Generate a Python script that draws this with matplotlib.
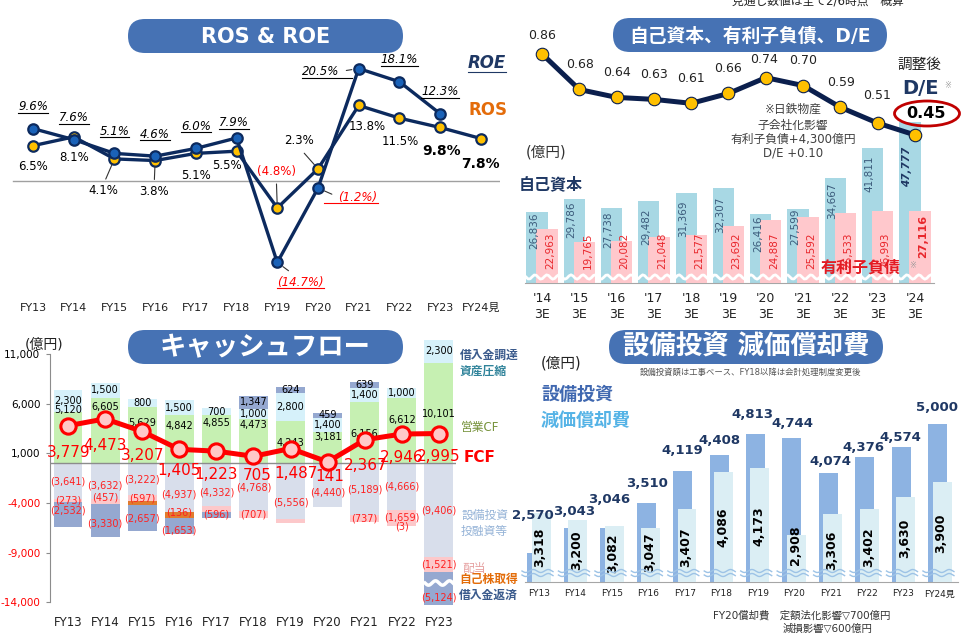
import matplotlib
matplotlib.use('Agg')
import matplotlib.pyplot as plt
import numpy as np
from matplotlib.patches import FancyBboxPatch, Ellipse
from matplotlib.lines import Line2D
from matplotlib.transforms import IdentityTransform

plt.rcParams['font.family'] = ['DejaVu Sans', 'Noto Sans CJK JP']

# ---------------- data ----------------
fy = ['FY13', 'FY14', 'FY15', 'FY16', 'FY17', 'FY18', 'FY19', 'FY20', 'FY21', 'FY22', 'FY23']
fy_plan = fy + ['FY24見']

# ROS & ROE (%)
roe = [9.6, 7.6, 5.1, 4.6, 6.0, 7.9, -14.7, -1.2, 20.5, 18.1, 12.3]
ros = [6.5, 8.1, 4.1, 3.8, 5.1, 5.5, -4.8, 2.3, 13.8, 11.5, 9.8, 7.8]

# equity, interest-bearing debt (億円), D/E
de_years = ["'14\n3E", "'15\n3E", "'16\n3E", "'17\n3E", "'18\n3E", "'19\n3E",
            "'20\n3E", "'21\n3E", "'22\n3E", "'23\n3E", "'24\n3E"]
de_ratio = [0.86, 0.68, 0.64, 0.63, 0.61, 0.66, 0.74, 0.70, 0.59, 0.51, 0.45]
equity = [26836, 29786, 27738, 29482, 31369, 32307, 26416, 27599, 34667, 41811, 47777]
debt = [22963, 19765, 20082, 21048, 21577, 23692, 24887, 25592, 26533, 26993, 27116]

# cash flow (億円)
op_cf = [5120, 6605, 5629, 4842, 4855, 4473, 4243, 3181, 6156, 6612, 10101]
asset_sale = [2300, 1500, 800, 1500, 700, 1000, 2800, 1400, 1400, 1000, 2300]
borrowing = [0, 0, 0, 0, 0, 1347, 624, 459, 639, 0, 0]
capex_inv = [3641, 3632, 3222, 4937, 4332, 4768, 5556, 4440, 5189, 4666, 9406]
dividends = [273, 457, 597, 0, 570, 707, 440, 0, 737, 1659, 1521]
div_labeled = [273, 457, 597, 0, 0, 707, 0, 0, 737, 1659, 1521]
buyback = [0, 0, 360, 570, 0, 0, 0, 0, 0, 0, 0]
buyback_labeled = [0, 0, 0, 136, 0, 0, 0, 0, 0, 0, 0]
repayment = [2532, 3330, 2657, 1653, 596, 0, 0, 0, 0, 3, 5124]
fcf = [3779, 4473, 3207, 1405, 1223, 705, 1487, 141, 2367, 2946, 2995]

# capex & depreciation (億円)
capex = [2570, 3043, 3046, 3510, 4119, 4408, 4813, 4744, 4074, 4376, 4574, 5000]
deprec = [3318, 3200, 3082, 3047, 3407, 4086, 4173, 2908, 3306, 3402, 3630, 3900]

# ---------------- layout helpers ----------------
W, H = 961, 641
fig = plt.figure(figsize=(W / 100, H / 100), dpi=100)
NAVY = '#0c2a5e'
PILL = '#4672b4'


def px_axes(x0, y0, x1, y1):
    ax = fig.add_axes([x0 / W, 1 - y1 / H, (x1 - x0) / W, (y1 - y0) / H])
    ax.patch.set_alpha(0)
    return ax


def lab(ax, x, y, s, dx=0, dy=0, **kw):
    kw.setdefault('ha', 'center')
    kw.setdefault('va', 'center')
    return ax.annotate(s, (x, y), xytext=(dx, dy), textcoords='offset pixels',
                       annotation_clip=False, **kw)


def fmt_neg(v):
    return f"({v:,})"


underlined = []

ov = px_axes(0, 0, W, H)
ov.set_xlim(0, W)
ov.set_ylim(H, 0)
ov.axis('off')
ov.set_zorder(10)


def pill(x0, y0, x1, y1, text, fs):
    h = y1 - y0
    ov.add_patch(FancyBboxPatch((x0, y0), x1 - x0, h,
                                boxstyle=f"round,pad=0,rounding_size={h / 2}",
                                fc=PILL, ec='none'))
    ov.text((x0 + x1) / 2, (y0 + y1) / 2 + 1, text, color='white', fontsize=fs,
            fontweight='bold', ha='center', va='center')


def wave(x0, x1, y, amp, period, **kw):
    xs = np.linspace(x0, x1, 200)
    ov.plot(xs, y + amp * np.sin(2 * np.pi * (xs - x0) / period), **kw)


# ---------------- panel 1 : ROS & ROE ----------------
ax1 = px_axes(0, 0, 500, 320)
ax1.set_xlim(-0.811, 11.47)
ax1.set_ylim(-25.14, 32.94)
ax1.axis('off')
ax1.axhline(0, xmin=13 / 500, xmax=1, color='#a0a0a0', lw=1)
x12 = np.arange(len(fy_plan))
ax1.plot(x12, ros, color=NAVY, lw=2.4, marker='o', ms=7.5, mfc='#ffc000',
         mec=NAVY, mew=1.6, zorder=3)
ax1.plot(x12[:len(roe)], roe, color=NAVY, lw=2.4, marker='o', ms=7.5, mfc='#1a62b8',
         mec=NAVY, mew=1.6, zorder=4)
for i, t in enumerate(fy_plan):
    ax1.text(i, 1 - 308 / 320, t, transform=ax1.get_xaxis_transform(),
             ha='center', va='center', fontsize=8, color='#222222')

roe_off = [(0, 22), (0, 22), (0, 22), (0, 22), (0, 22), (-3, 15), (23, -20),
           (40, -9), (-38, -3), (0, 22), (0, 22)]
roe_lead = {6: dict(relpos=(0.4, 1.0), shrinkA=3, shrinkB=5),
            7: dict(relpos=(0.0, 0.5), shrinkA=3, shrinkB=5),
            8: dict(relpos=(1.0, 0.5), shrinkA=3, shrinkB=5)}
for i, v in enumerate(roe):
    s = f"{v:.1f}%" if v >= 0 else f"({-v:.1f}%)"
    c = 'black' if v >= 0 else '#ff0000'
    ap = None
    if i in roe_lead:
        ap = dict(arrowstyle='-', color='#333333', lw=0.8, **roe_lead[i])
    t = lab(ax1, i, v, s, *roe_off[i], fontsize=8.5, style='italic', color=c,
            arrowprops=ap)
    underlined.append((t, c))

ros_off = [(0, -21), (0, -21), (-11, -32), (-1, -31), (0, -22), (-10, -14), (-1, 36),
           (-19, 28), (9, -21), (1, -23), (1, -24), (0, -25)]
ros_lead = {2: dict(relpos=(0.5, 1.0), shrinkA=2, shrinkB=4),
            3: dict(relpos=(0.5, 1.0), shrinkA=2, shrinkB=4),
            6: dict(relpos=(0.5, 0.0), shrinkA=2, shrinkB=4),
            7: dict(relpos=(0.5, 0.0), shrinkA=3, shrinkB=4)}
for i, v in enumerate(ros):
    s = f"{v:.1f}%" if v >= 0 else f"({-v:.1f}%)"
    c = 'black' if v >= 0 else '#ff0000'
    ap = None
    if i in ros_lead:
        ap = dict(arrowstyle='-', color='#333333', lw=0.8, **ros_lead[i])
    big = i >= len(ros) - 2
    lab(ax1, i, v, s, *ros_off[i], fontsize=10 if big else 8.5,
        fontweight='bold' if big else 'normal', color=c, arrowprops=ap)

pill(128, 19, 403, 53, 'ROS & ROE', 15)
t = ov.text(468, 63, 'ROE', color='#1f3864', fontsize=12, fontweight='bold',
            style='italic', ha='left', va='center')
underlined.append((t, '#1f3864'))
ov.text(468, 110, 'ROS', color='#e46c0a', fontsize=12, fontweight='bold',
        ha='left', va='center')

# ---------------- panel 2 : equity, debt, D/E ----------------
ax2 = px_axes(525, 30, 934, 283)
x11 = np.arange(len(de_years))
ax2.set_xlim(-0.456, 10.51)
ax2.set_ylim(10324, 10324 + 253 / 0.0043)
for sp in ['top', 'left', 'right']:
    ax2.spines[sp].set_visible(False)
ax2.spines['bottom'].set_color('#a6a6a6')
ax2.set_xticks([])
ax2.set_yticks([])
ax2.bar(x11 - 0.135, equity, width=0.57, color='#a8d8e4', zorder=2)
ax2.bar(x11 + 0.135, debt, width=0.57, color='#ffc8cc', zorder=3)
eq_off = [1, 2, 3, 8, 8, 8, 2, 0, 4, 8, 25]
for i, v in enumerate(equity):
    last = i == len(equity) - 1
    lab(ax2, i - 0.135, v, f"{v:,}", -3, -eq_off[i], rotation=90, va='top',
        fontsize=7.5, color='#1f3864' if last else '#3b5b7b',
        fontweight='bold' if last else 'normal', style='italic' if last else 'normal',
        zorder=5)
for i, v in enumerate(debt):
    last = i == len(debt) - 1
    lab(ax2, i + 0.135, 10324, f"{v:,}", 3, 25 if last else 14, rotation=90,
        va='bottom', fontsize=8 if last else 7.5, color='#e8262b',
        fontweight='bold' if last else 'normal', zorder=5)
for i, t in enumerate(de_years):
    ax2.text(i, -0.093, t, transform=ax2.get_xaxis_transform(), ha='center',
             va='center', fontsize=9, linespacing=1.35, color='#222222')

ax2b = ax2.twinx()
ax2b.set_ylim(-0.299, 0.981)
ax2b.axis('off')
ax2b.plot(x11, de_ratio, color='#0b1f4d', lw=3.6, marker='o', ms=9, mfc='#ffc000',
          mec='#0b1f4d', mew=0.8, zorder=5)
de_off = [(0, 18), (1, 25), (0, 25), (0, 25), (0, 25), (0, 25), (-2, 18), (0, 25),
          (1, 25), (-1, 28)]
for i, v in enumerate(de_ratio[:-1]):
    lab(ax2b, i, v, f"{v:.2f}", *de_off[i], fontsize=9, color='#222222')

pill(613, 18, 887, 52, '自己資本、有利子負債、D/E', 13.5)
ov.text(818, 1, '見通し数値は全て2/6時点　概算', fontsize=8.5, ha='center',
        va='center', color='#222222')
ov.text(546, 152, '(億円)', fontsize=10.5, ha='center', va='center', color='#333333')
ov.text(551, 184, '自己資本', fontsize=11.5, fontweight='bold', ha='center',
        va='center', color='#1f3864')
ov.text(861, 268, '有利子負債', fontsize=11.5, fontweight='bold', ha='center',
        va='center', color='#e31b23')
ov.text(913, 266, '※', fontsize=6, ha='center', va='center', color='#999999')
for txt, yy in [('※日鉄物産', 109), ('子会社化影響', 125),
                ('有利子負債+4,300億円', 139), ('D/E +0.10', 153)]:
    ov.text(793, yy, txt, fontsize=8.5, ha='center', va='center', color='#404040')
ov.text(919, 64, '調整後', fontsize=10.5, ha='center', va='center', color='#222222')
ov.text(921, 88, 'D/E', fontsize=14, fontweight='bold', ha='center', va='center',
        color='#1f3864')
ov.text(948, 85, '※', fontsize=6, ha='center', va='center', color='#999999')
ov.text(926, 114, '0.45', fontsize=11.5, fontweight='bold', ha='center',
        va='center', color='black')
ov.add_patch(Ellipse((927, 113.5), 65, 25, fc='none', ec='#c00000', lw=2))
wave(526, 933, 277, 2.2, 12, color='white', lw=2)

# ---------------- panel 3 : cash flow ----------------
ax3 = px_axes(50, 338, 456, 605)
xc = np.arange(len(fy))
ax3.set_xlim(-0.485, 10.46)
ax3.set_ylim(-14255, 12606)
for sp in ['top', 'right', 'bottom']:
    ax3.spines[sp].set_visible(False)
ax3.spines['left'].set_color('#8c8c8c')
ax3.spines['left'].set_bounds(-14000, 11000)
yt = [11000, 6000, 1000, -4000, -9000, -14000]
ax3.set_yticks(yt)
ax3.set_yticklabels([f"{v:,}" for v in yt], fontsize=7.5)
for tl, v in zip(ax3.get_yticklabels(), yt):
    tl.set_color('black' if v > 0 else '#ff0000')
ax3.tick_params(axis='y', length=3, width=0.8, color='#8c8c8c', pad=4)
ax3.set_xticks([])
for i, t in enumerate(fy):
    ax3.text(i, -17 / 267, t, transform=ax3.get_xaxis_transform(), ha='center',
             va='center', fontsize=8.5, color='#222222')

bw = 0.78
op = np.array(op_cf)
asl = np.array(asset_sale)
bor = np.array(borrowing)
ax3.bar(xc, op, bw, color='#c6f0b2', zorder=2)
ax3.bar(xc, asl, bw, bottom=op, color='#d6f1fa', zorder=2)
ax3.bar(xc, bor, bw, bottom=op + asl, color='#95a8d0', zorder=2)
ci = np.array(capex_inv)
dv = np.array(dividends)
bb = np.array(buyback)
rp = np.array(repayment)
ax3.bar(xc, -ci, bw, color='#d8deeb', zorder=2)
ax3.bar(xc, -dv, bw, bottom=-ci, color='#fcc8ca', zorder=2)
ax3.bar(xc, -bb, bw, bottom=-ci - dv, color='#e07b2e', zorder=2)
ax3.bar(xc, -rp, bw, bottom=-ci - dv - bb, color='#95a8d0', zorder=2)
ax3.axhline(0, color='#8c8c8c', lw=1, zorder=3)

ax3.plot(xc, fcf, color='#ff0000', lw=3.6, marker='o', ms=11, mfc='#ffc8c8',
         mec='#ff0000', mew=2.2, zorder=6)

fs_cf = 7
op_off = [2, -9, -16, -11, -8, -6, -22, -5, -32, -22, -51]
for i in range(len(fy)):
    lab(ax3, i, op[i], f"{op[i]:,}", 0, op_off[i], fontsize=fs_cf, color='black', zorder=5)
    lab(ax3, i, op[i] + asl[i] / 2, f"{asl[i]:,}", fontsize=fs_cf, color='black', zorder=5)
    if bor[i]:
        lab(ax3, i, op[i] + asl[i] + bor[i] / 2, f"{bor[i]:,}", fontsize=fs_cf,
            color='black', zorder=5)

ci_off = [0, -4, 0, -7, -8, 0, -12, -7, 0, 0, 0]
dv_off = [0, 4, 0, 0, 0, 0, 0, 0, 0, 0, 0]
rp_off = [4, -3, 0, -4, 0, 0, 0, 0, 0, 0, 0]
RED = '#ff2020'
for i in range(len(fy)):
    lab(ax3, i, -ci[i] / 2, fmt_neg(ci[i]), 0, ci_off[i], fontsize=fs_cf, color=RED, zorder=5)
    if div_labeled[i]:
        lab(ax3, i, -ci[i] - dv[i] / 2, fmt_neg(div_labeled[i]), 0, dv_off[i],
            fontsize=fs_cf, color=RED, zorder=5)
    if buyback_labeled[i]:
        lab(ax3, i, -ci[i] - dv[i] - bb[i] / 2, fmt_neg(buyback_labeled[i]), 0, 3,
            fontsize=fs_cf, color=RED, zorder=5)
    if rp[i]:
        lab(ax3, i, -ci[i] - dv[i] - bb[i] - rp[i] / 2, fmt_neg(rp[i]), 0, rp_off[i],
            fontsize=fs_cf, color=RED, zorder=5)

fcf_off = [(1, -27), (0, -27), (0, -24), (0, -21), (0, -23), (4, -19), (5, -25),
           (2, -15), (1, -26), (0, -23), (0, -23)]
for i, v in enumerate(fcf):
    lab(ax3, i, v, f"{v:,}", *fcf_off[i], fontsize=11, color='#ff0000', zorder=7)

pill(128, 330, 403, 364, 'キャッシュフロー', 19)
ov.text(44, 344, '(億円)', fontsize=10, ha='center', va='center', color='#222222')
for txt, xx, yy, c, fw, fs in [('借入金調達', 460, 355, '#3a5a8c', 'bold', 8.5),
                               ('資産圧縮', 460, 371.5, '#31849b', 'bold', 8.5),
                               ('営業CF', 461, 427, '#77933c', 'normal', 8.5),
                               ('FCF', 464, 458, '#ff0000', 'bold', 11),
                               ('設備投資', 461, 515, '#95b3d7', 'normal', 8.5),
                               ('投融資等', 461, 531.5, '#95b3d7', 'normal', 8.5),
                               ('配当', 462, 568, '#e6a0a0', 'normal', 8.5),
                               ('自己株取得', 459, 579.5, '#e36c09', 'bold', 8.5),
                               ('借入金返済', 459, 595.5, '#3a5a8c', 'bold', 8.5)]:
    ov.text(xx, yy, txt, fontsize=fs, fontweight=fw, color=c, ha='left', va='center')
wave(425, 453, 583, 2.2, 14, color='white', lw=2.5)

# ---------------- panel 4 : capex & depreciation ----------------
ax4 = px_axes(525, 400, 958, 582)
xp = np.arange(len(fy_plan))
ax4.set_xlim(-0.384, 11.495)
ax4.set_ylim(2024, 5451)
for sp in ['top', 'left', 'right']:
    ax4.spines[sp].set_visible(False)
ax4.spines['bottom'].set_color('#a6a6a6')
ax4.set_xticks([])
ax4.set_yticks([])
ax4.bar(xp - 0.06, capex, width=0.52, color='#8db3e2', zorder=2)
ax4.bar(xp + 0.06, deprec, width=0.52, color='#dbeef4', zorder=3)
cap_off = [(-6.5, 38), (-1.5, 16), (-2.6, 28), (-1.7, 20), (-2, 20), (-2, 15),
           (-5.4, 19.6), (-2, 14), (0, 12), (-4, 10), (-3.5, 9), (-3, 16)]
for i, v in enumerate(capex):
    lab(ax4, i, v, f"{v:,}", *cap_off[i], fontsize=9.5, fontweight='bold',
        color='#1f3864', zorder=5)
dep_up = [35, 32, 29, 30, 35, 55, 56, 37, 32, 35, 44, 49]
for i, v in enumerate(deprec):
    lab(ax4, i + 0.06, 2024, f"{v:,}", -1, dep_up[i], rotation=90, fontsize=9,
        fontweight='bold', color='black', zorder=5)
for i, t in enumerate(fy_plan):
    ax4.text(i, -12 / 182, t, transform=ax4.get_xaxis_transform(), ha='center',
             va='center', fontsize=6.5, color='#222222')
for i in range(len(fy_plan)):
    cx = 539 + 36.45 * i
    wave(cx - 17, cx + 14, 571, 1.5, 15, color='#9dc3e6', lw=1)
    wave(cx - 17, cx + 14, 575, 1.5, 15, color='#9dc3e6', lw=1)

pill(609, 330, 883, 364, '設備投資 減価償却費', 19)
ov.text(750, 372, '設備投資額は工事ベース、FY18以降は会計処理制度変更後', fontsize=6,
        ha='center', va='center', color='#555555')
ov.text(561, 363, '(億円)', fontsize=10.5, ha='center', va='center', color='#222222')
ov.text(541, 395, '設備投資', fontsize=13, fontweight='bold', ha='left', va='center',
        color='#4068b0')
ov.text(541, 421, '減価償却費', fontsize=13, fontweight='bold', ha='left', va='center',
        color='#55b3e6')
ov.text(713, 615.5, 'FY20償却費　定額法化影響▽700億円', fontsize=7.5, ha='left',
        va='center', color='#333333')
ov.text(783, 629, '減損影響▽600億円', fontsize=7.5, ha='left', va='center',
        color='#333333')

# underline the italic ROE labels
fig.canvas.draw()
for t, c in underlined:
    b = t.get_window_extent()
    fig.add_artist(Line2D([b.x0, b.x1], [b.y0 + 0.5, b.y0 + 0.5], lw=0.8, color=c,
                          transform=IdentityTransform()))

fig.savefig('out.png', dpi=100)
